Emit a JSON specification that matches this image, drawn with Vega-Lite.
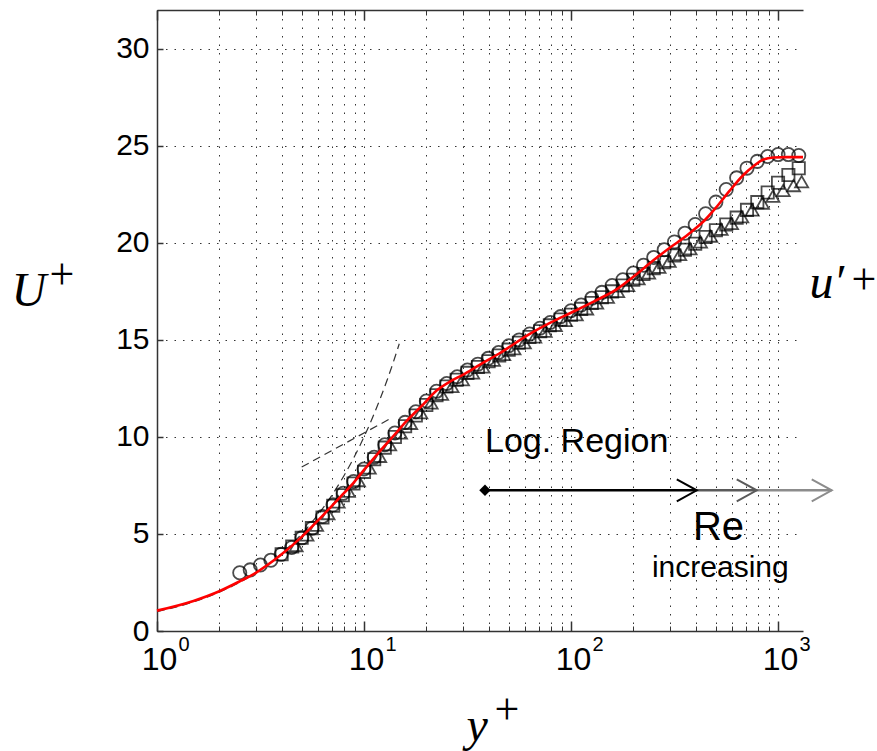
{
  "$schema": "https://vega.github.io/schema/vega-lite/v6.json",
  "width": 646,
  "height": 621,
  "autosize": {"type": "none"},
  "padding": {"left": 157, "top": 10, "right": 74, "bottom": 120},
  "background": "white",
  "config": {"view": {"stroke": null}, "font": "Liberation Sans"},
  "datasets": {
    "dash": [
      {"s": "visc", "x": 1, "y": 1}, {"s": "visc", "x": 1.5, "y": 1.5}, {"s": "visc", "x": 2, "y": 2}, {"s": "visc", "x": 3, "y": 3},
      {"s": "visc", "x": 4, "y": 4}, {"s": "visc", "x": 5, "y": 5}, {"s": "visc", "x": 6, "y": 6}, {"s": "visc", "x": 7, "y": 7},
      {"s": "visc", "x": 8, "y": 8}, {"s": "visc", "x": 9, "y": 9}, {"s": "visc", "x": 10, "y": 10}, {"s": "visc", "x": 11, "y": 11},
      {"s": "visc", "x": 12, "y": 12}, {"s": "visc", "x": 13, "y": 13}, {"s": "visc", "x": 14, "y": 14}, {"s": "visc", "x": 14.8, "y": 14.8},
      {"s": "log", "x": 5, "y": 8.45}, {"s": "log", "x": 13.6, "y": 10.98}
    ],
    "red": [
      {"x": 1, "y": 1.05}, {"x": 1.5, "y": 1.55}, {"x": 2, "y": 2.05}, {"x": 2.5, "y": 2.55}, {"x": 3, "y": 3.0},
      {"x": 4, "y": 3.95}, {"x": 5, "y": 4.85}, {"x": 6, "y": 5.7}, {"x": 7, "y": 6.45}, {"x": 8, "y": 7.1},
      {"x": 9, "y": 7.7}, {"x": 10, "y": 8.3}, {"x": 12, "y": 9.3}, {"x": 14, "y": 10.1}, {"x": 16, "y": 10.8},
      {"x": 19, "y": 11.6}, {"x": 22.5, "y": 12.4}, {"x": 26, "y": 12.85}, {"x": 30, "y": 13.2}, {"x": 36, "y": 13.7},
      {"x": 45, "y": 14.3}, {"x": 63, "y": 15.3}, {"x": 80, "y": 15.9}, {"x": 100, "y": 16.4}, {"x": 130, "y": 17.0},
      {"x": 166, "y": 17.6}, {"x": 200, "y": 18.25}, {"x": 250, "y": 19.1}, {"x": 300, "y": 19.75}, {"x": 360, "y": 20.35},
      {"x": 400, "y": 20.75}, {"x": 436, "y": 21.1}, {"x": 500, "y": 21.8}, {"x": 580, "y": 22.65}, {"x": 680, "y": 23.5},
      {"x": 760, "y": 23.95}, {"x": 850, "y": 24.3}, {"x": 950, "y": 24.4}, {"x": 1100, "y": 24.42}, {"x": 1320, "y": 24.42}
    ],
    "circles": [
      {"x": 2.51, "y": 3.0}, {"x": 2.82, "y": 3.15}, {"x": 3.16, "y": 3.4}, {"x": 3.55, "y": 3.65}, {"x": 3.98, "y": 3.95},
      {"x": 4.47, "y": 4.3}, {"x": 5.01, "y": 4.8}, {"x": 5.62, "y": 5.3}, {"x": 6.31, "y": 5.9}, {"x": 7.08, "y": 6.5},
      {"x": 7.94, "y": 7.1}, {"x": 8.91, "y": 7.7}, {"x": 10.0, "y": 8.35}, {"x": 11.2, "y": 8.95}, {"x": 12.6, "y": 9.6},
      {"x": 14.1, "y": 10.2}, {"x": 15.8, "y": 10.75}, {"x": 17.8, "y": 11.3}, {"x": 20.0, "y": 11.85}, {"x": 22.4, "y": 12.35},
      {"x": 25.1, "y": 12.75}, {"x": 28.2, "y": 13.1}, {"x": 31.6, "y": 13.45}, {"x": 35.5, "y": 13.75}, {"x": 39.8, "y": 14.05},
      {"x": 44.7, "y": 14.35}, {"x": 50.1, "y": 14.7}, {"x": 56.2, "y": 15.0}, {"x": 63.1, "y": 15.3}, {"x": 70.8, "y": 15.6},
      {"x": 79.4, "y": 15.9}, {"x": 89.1, "y": 16.2}, {"x": 100, "y": 16.5}, {"x": 112, "y": 16.8}, {"x": 126, "y": 17.15},
      {"x": 141, "y": 17.45}, {"x": 158, "y": 17.8}, {"x": 178, "y": 18.1}, {"x": 200, "y": 18.45}, {"x": 224, "y": 18.85},
      {"x": 251, "y": 19.25}, {"x": 282, "y": 19.65}, {"x": 316, "y": 20.05}, {"x": 355, "y": 20.5}, {"x": 398, "y": 20.95},
      {"x": 447, "y": 21.5}, {"x": 501, "y": 22.1}, {"x": 562, "y": 22.75}, {"x": 631, "y": 23.35}, {"x": 708, "y": 23.85},
      {"x": 794, "y": 24.2}, {"x": 891, "y": 24.45}, {"x": 1000, "y": 24.55}, {"x": 1122, "y": 24.55}, {"x": 1259, "y": 24.5}
    ],
    "squares": [
      {"x": 4.0, "y": 3.95}, {"x": 4.5, "y": 4.35}, {"x": 5.0, "y": 4.8}, {"x": 5.6, "y": 5.3}, {"x": 6.3, "y": 5.85},
      {"x": 7.1, "y": 6.45}, {"x": 7.9, "y": 7.0}, {"x": 8.9, "y": 7.6}, {"x": 10, "y": 8.2}, {"x": 11.2, "y": 8.85},
      {"x": 12.6, "y": 9.45}, {"x": 14.1, "y": 10.0}, {"x": 15.8, "y": 10.55}, {"x": 17.8, "y": 11.1}, {"x": 20, "y": 11.65},
      {"x": 22.4, "y": 12.15}, {"x": 25, "y": 12.6}, {"x": 28, "y": 12.95}, {"x": 31.6, "y": 13.3}, {"x": 35.5, "y": 13.6},
      {"x": 40, "y": 13.9}, {"x": 45, "y": 14.2}, {"x": 50, "y": 14.5}, {"x": 56, "y": 14.85}, {"x": 63, "y": 15.15},
      {"x": 71, "y": 15.45}, {"x": 79, "y": 15.75}, {"x": 89, "y": 16.05}, {"x": 100, "y": 16.3}, {"x": 112, "y": 16.6},
      {"x": 126, "y": 16.9}, {"x": 141, "y": 17.2}, {"x": 158, "y": 17.5}, {"x": 178, "y": 17.8}, {"x": 200, "y": 18.1},
      {"x": 224, "y": 18.4}, {"x": 251, "y": 18.7}, {"x": 282, "y": 19.0}, {"x": 316, "y": 19.35}, {"x": 355, "y": 19.65},
      {"x": 398, "y": 19.95}, {"x": 447, "y": 20.3}, {"x": 501, "y": 20.65}, {"x": 562, "y": 20.95}, {"x": 631, "y": 21.3},
      {"x": 708, "y": 21.7}, {"x": 794, "y": 22.1}, {"x": 891, "y": 22.6}, {"x": 1000, "y": 23.1}, {"x": 1122, "y": 23.5},
      {"x": 1259, "y": 23.85}
    ],
    "triangles": [
      {"x": 4.7, "y": 4.4}, {"x": 5.3, "y": 4.95}, {"x": 5.9, "y": 5.45}, {"x": 6.7, "y": 6.05}, {"x": 7.5, "y": 6.65},
      {"x": 8.4, "y": 7.2}, {"x": 9.4, "y": 7.75}, {"x": 10.6, "y": 8.4}, {"x": 11.9, "y": 9.0}, {"x": 13.3, "y": 9.6},
      {"x": 15, "y": 10.2}, {"x": 16.8, "y": 10.7}, {"x": 18.8, "y": 11.25}, {"x": 21.1, "y": 11.75}, {"x": 23.7, "y": 12.2},
      {"x": 26.6, "y": 12.6}, {"x": 29.9, "y": 12.95}, {"x": 33.5, "y": 13.3}, {"x": 37.6, "y": 13.6}, {"x": 42.2, "y": 13.95},
      {"x": 47.3, "y": 14.25}, {"x": 53, "y": 14.55}, {"x": 59.5, "y": 14.85}, {"x": 66.8, "y": 15.15}, {"x": 75, "y": 15.45},
      {"x": 84, "y": 15.75}, {"x": 94, "y": 16.0}, {"x": 106, "y": 16.3}, {"x": 119, "y": 16.6}, {"x": 133, "y": 16.9},
      {"x": 150, "y": 17.2}, {"x": 168, "y": 17.5}, {"x": 188, "y": 17.8}, {"x": 211, "y": 18.15}, {"x": 237, "y": 18.45},
      {"x": 266, "y": 18.75}, {"x": 298, "y": 19.05}, {"x": 335, "y": 19.4}, {"x": 376, "y": 19.7}, {"x": 422, "y": 20.05},
      {"x": 473, "y": 20.35}, {"x": 531, "y": 20.7}, {"x": 596, "y": 21.0}, {"x": 668, "y": 21.35}, {"x": 750, "y": 21.7},
      {"x": 841, "y": 22.05}, {"x": 944, "y": 22.4}, {"x": 1059, "y": 22.7}, {"x": 1188, "y": 22.95}, {"x": 1300, "y": 23.15}
    ],
    "arrows": [
      {"seg": "a", "x": 38.4, "y": 7.25}, {"seg": "a", "x": 405, "y": 7.25},
      {"seg": "b", "x": 405, "y": 7.25}, {"seg": "b", "x": 789, "y": 7.25},
      {"seg": "c", "x": 789, "y": 7.25}, {"seg": "c", "x": 1817, "y": 7.25}
    ],
    "tips": [
      {"seg": "a", "x": 405, "y": 7.25}, {"seg": "b", "x": 789, "y": 7.25}, {"seg": "c", "x": 1817, "y": 7.25}
    ]
  },
  "resolve": {"scale": {"x": "shared", "y": "shared"}, "axis": {"x": "independent", "y": "independent"}},
  "layer": [
    {
      "data": {"name": "dash"},
      "mark": {"type": "line", "strokeDash": [8, 5], "color": "#333333", "strokeWidth": 1.2, "interpolate": "monotone"},
      "encoding": {
        "x": {"field": "x", "type": "quantitative", "scale": {"type": "log", "domain": [1, 1320], "nice": false},
          "axis": {"orient": "bottom",
            "values": [1, 2, 3, 4, 5, 6, 7, 8, 9, 10, 20, 30, 40, 50, 60, 70, 80, 90, 100, 200, 300, 400, 500, 600, 700, 800, 900, 1000],
            "labelExpr": "datum.value == 1 || datum.value == 10 || datum.value == 100 || datum.value == 1000 ? '10' : ''",
            "grid": true, "gridDash": [1.5, 7], "gridColor": "#333333", "gridWidth": 1, "gridOpacity": 1,
            "tickSize": -5, "tickColor": "#333333", "tickWidth": 1,
            "domainColor": "#333333", "domainWidth": 1.5,
            "labelFont": "Liberation Sans", "labelFontSize": 32, "labelColor": "#000000", "labelPadding": 18, "labelOffset": 2,
            "labelFlush": false, "labelOverlap": false, "labelBound": false,
            "title": "y", "titleFont": "Liberation Serif", "titleFontStyle": "italic", "titleFontWeight": "normal",
            "titleFontSize": 48, "titleColor": "#000000", "titleX": 309, "titleY": 109, "titleAlign": "left", "titleBaseline": "alphabetic"}},
        "y": {"field": "y", "type": "quantitative", "scale": {"domain": [0, 32], "nice": false},
          "axis": {"orient": "left", "values": [0, 5, 10, 15, 20, 25, 30],
            "grid": true, "gridDash": [1.5, 7], "gridColor": "#333333", "gridWidth": 1, "gridOpacity": 1,
            "tickSize": -6, "tickColor": "#333333", "tickWidth": 1.5,
            "domainColor": "#333333", "domainWidth": 1.5,
            "labelFont": "Liberation Sans", "labelFontSize": 30, "labelColor": "#000000", "labelPadding": 14,
            "title": "U", "titleAngle": 0, "titleFont": "Liberation Serif", "titleFontStyle": "italic", "titleFontWeight": "normal",
            "titleFontSize": 48, "titleColor": "#000000", "titleX": -146, "titleY": 295, "titleAlign": "left", "titleBaseline": "alphabetic"}},
        "detail": {"field": "s", "type": "nominal"}
      }
    },
    {
      "data": {"name": "circles"},
      "mark": {"type": "point", "shape": "circle", "filled": false, "stroke": "#000000", "strokeWidth": 1.8, "size": 175},
      "encoding": {
        "x": {"field": "x", "type": "quantitative", "scale": {"type": "log", "domain": [1, 1320], "nice": false},
          "axis": {"orient": "bottom", "values": [1, 10, 100, 1000], "tickSize": -10, "tickColor": "#333333", "tickWidth": 1.5,
            "labelExpr": "datum.value == 1 ? '0' : datum.value == 10 ? '1' : datum.value == 100 ? '2' : '3'",
            "labelFont": "Liberation Sans", "labelFontSize": 20, "labelColor": "#000000", "labelPadding": 13,
            "labelAlign": "left", "labelOffset": 21, "labelFlush": false, "labelOverlap": false, "labelBound": false,
            "grid": false, "domain": false,
            "title": "+", "titleFont": "Liberation Serif", "titleFontStyle": "normal", "titleFontWeight": "normal",
            "titleFontSize": 44, "titleColor": "#000000", "titleX": 337, "titleY": 92, "titleAlign": "left", "titleBaseline": "alphabetic"}},
        "y": {"field": "y", "type": "quantitative", "scale": {"domain": [0, 32], "nice": false},
          "axis": {"orient": "left", "domain": false, "ticks": false, "labels": false, "grid": false,
            "title": "+", "titleAngle": 0, "titleFont": "Liberation Serif", "titleFontStyle": "normal", "titleFontWeight": "normal",
            "titleFontSize": 44, "titleColor": "#000000", "titleX": -108, "titleY": 278, "titleAlign": "left", "titleBaseline": "alphabetic"}}
      }
    },
    {
      "data": {"name": "squares"},
      "mark": {"type": "point", "shape": "square", "filled": false, "stroke": "#000000", "strokeWidth": 1.8, "size": 150},
      "encoding": {
        "x": {"field": "x", "type": "quantitative", "scale": {"type": "log", "domain": [1, 1320], "nice": false},
          "axis": {"orient": "top",
            "values": [1, 2, 3, 4, 5, 6, 7, 8, 9, 10, 20, 30, 40, 50, 60, 70, 80, 90, 100, 200, 300, 400, 500, 600, 700, 800, 900, 1000],
            "tickSize": -5, "tickColor": "#333333", "tickWidth": 1, "labels": false, "grid": false,
            "domain": true, "domainColor": "#333333", "domainWidth": 1.5, "title": null}},
        "y": {"field": "y", "type": "quantitative", "scale": {"domain": [0, 32], "nice": false},
          "axis": {"orient": "right", "domain": false, "ticks": false, "labels": false, "grid": false,
            "title": "u′", "titleAngle": 0, "titleFont": "Liberation Serif", "titleFontStyle": "italic", "titleFontWeight": "normal",
            "titleFontSize": 48, "titleColor": "#000000", "titleX": 6, "titleY": 287, "titleAlign": "left", "titleBaseline": "alphabetic"}}
      }
    },
    {
      "data": {"name": "triangles"},
      "mark": {"type": "point", "shape": "triangle-up", "filled": false, "stroke": "#000000", "strokeWidth": 1.8, "size": 170},
      "encoding": {
        "x": {"field": "x", "type": "quantitative", "scale": {"type": "log", "domain": [1, 1320], "nice": false},
          "axis": {"orient": "top", "values": [1, 10, 100, 1000], "tickSize": -10, "tickColor": "#333333", "tickWidth": 1.5,
            "labels": false, "grid": false, "domain": false, "title": null}},
        "y": {"field": "y", "type": "quantitative", "scale": {"domain": [0, 32], "nice": false},
          "axis": {"orient": "right", "domain": false, "ticks": false, "labels": false, "grid": false,
            "title": "+", "titleAngle": 0, "titleFont": "Liberation Serif", "titleFontStyle": "normal", "titleFontWeight": "normal",
            "titleFontSize": 44, "titleColor": "#000000", "titleX": 48, "titleY": 283, "titleAlign": "left", "titleBaseline": "alphabetic"}}
      }
    },
    {
      "data": {"name": "red"},
      "mark": {"type": "line", "color": "#ff0000", "strokeWidth": 2.6, "interpolate": "monotone"},
      "encoding": {
        "x": {"field": "x", "type": "quantitative", "scale": {"type": "log", "domain": [1, 1320], "nice": false}, "axis": null},
        "y": {"field": "y", "type": "quantitative", "scale": {"domain": [0, 32], "nice": false}, "axis": null}
      }
    },
    {
      "data": {"name": "arrows"},
      "mark": {"type": "line", "strokeWidth": 2.4, "clip": false},
      "encoding": {
        "x": {"field": "x", "type": "quantitative", "scale": {"type": "log", "domain": [1, 1320], "nice": false}, "axis": null},
        "y": {"field": "y", "type": "quantitative", "scale": {"domain": [0, 32], "nice": false}, "axis": null},
        "color": {"field": "seg", "type": "nominal", "scale": {"domain": ["a", "b", "c"], "range": ["#000000", "#5a5a5a", "#8c8c8c"]}, "legend": null}
      }
    },
    {
      "data": {"name": "tips"},
      "mark": {"type": "point", "shape": "M-1,-0.55L0,0L-1,0.55", "filled": false, "strokeWidth": 2, "size": 1600, "opacity": 1, "clip": false},
      "encoding": {
        "x": {"field": "x", "type": "quantitative", "scale": {"type": "log", "domain": [1, 1320], "nice": false}, "axis": null},
        "y": {"field": "y", "type": "quantitative", "scale": {"domain": [0, 32], "nice": false}, "axis": null},
        "color": {"field": "seg", "type": "nominal", "scale": {"domain": ["a", "b", "c"], "range": ["#000000", "#5a5a5a", "#8c8c8c"]}, "legend": null}
      }
    },
    {
      "data": {"values": [{"x": 38.4, "y": 7.25}]},
      "mark": {"type": "point", "shape": "diamond", "filled": true, "color": "#000000", "size": 130, "opacity": 1},
      "encoding": {
        "x": {"field": "x", "type": "quantitative", "scale": {"type": "log", "domain": [1, 1320], "nice": false}, "axis": null},
        "y": {"field": "y", "type": "quantitative", "scale": {"domain": [0, 32], "nice": false}, "axis": null}
      }
    },
    {
      "data": {"values": [{"x": 38.4, "y": 9.2, "t": "Log. Region"}]},
      "mark": {"type": "text", "font": "Liberation Sans", "fontSize": 34, "align": "left", "baseline": "alphabetic", "color": "#000000"},
      "encoding": {
        "x": {"field": "x", "type": "quantitative", "scale": {"type": "log", "domain": [1, 1320], "nice": false}, "axis": null},
        "y": {"field": "y", "type": "quantitative", "scale": {"domain": [0, 32], "nice": false}, "axis": null},
        "text": {"field": "t"}
      }
    },
    {
      "data": {"values": [{"x": 388, "y": 4.69, "t": "Re"}]},
      "mark": {"type": "text", "font": "Liberation Sans", "fontSize": 40, "align": "left", "baseline": "alphabetic", "color": "#000000"},
      "encoding": {
        "x": {"field": "x", "type": "quantitative", "scale": {"type": "log", "domain": [1, 1320], "nice": false}, "axis": null},
        "y": {"field": "y", "type": "quantitative", "scale": {"domain": [0, 32], "nice": false}, "axis": null},
        "text": {"field": "t"}
      }
    },
    {
      "data": {"values": [{"x": 246, "y": 2.78, "t": "increasing"}]},
      "mark": {"type": "text", "font": "Liberation Sans", "fontSize": 30, "align": "left", "baseline": "alphabetic", "color": "#000000"},
      "encoding": {
        "x": {"field": "x", "type": "quantitative", "scale": {"type": "log", "domain": [1, 1320], "nice": false}, "axis": null},
        "y": {"field": "y", "type": "quantitative", "scale": {"domain": [0, 32], "nice": false}, "axis": null},
        "text": {"field": "t"}
      }
    }
  ]
}
